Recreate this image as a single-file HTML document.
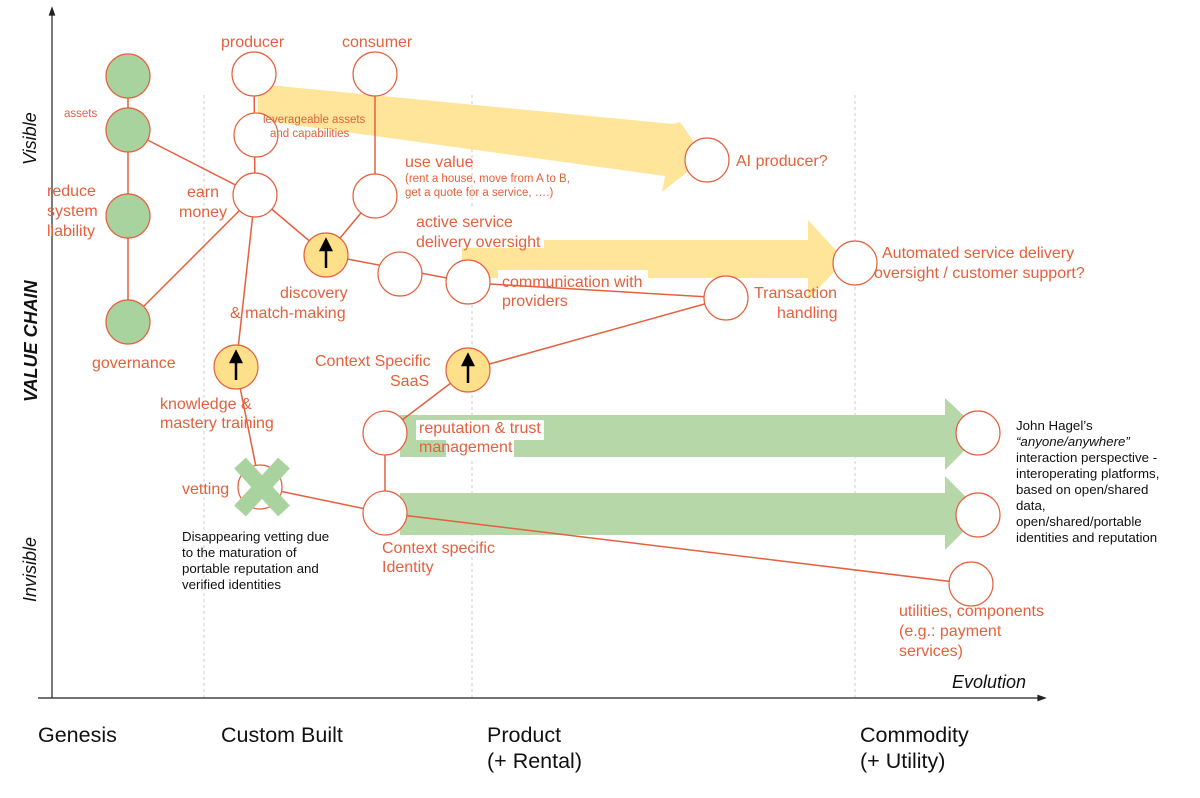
<!DOCTYPE html>
<html><head><style>
html,body{margin:0;padding:0;background:#fff;}
svg{display:block;}
text{font-family:"Liberation Sans",sans-serif;}
.o{fill:#e5603d;font-size:16px;}
.s{fill:#e5603d;font-size:11.5px;}
.k{fill:#111;font-size:13.3px;}
.b{fill:#111;font-size:21.5px;}
</style></head><body>
<svg width="1200" height="798" viewBox="0 0 1200 798" xmlns="http://www.w3.org/2000/svg">
<g stroke="#ccc" stroke-width="1" stroke-dasharray="3,3">
<line x1="204" y1="95" x2="204" y2="698"/>
<line x1="472" y1="95" x2="472" y2="698"/>
<line x1="855" y1="95" x2="855" y2="698"/>
</g>
<g stroke="#222" stroke-width="1.2" fill="#222">
<line x1="52" y1="12" x2="52" y2="698"/>
<line x1="38" y1="698" x2="1040" y2="698"/>
<polygon points="52,8 49.5,15 54.5,15"/>
<polygon points="1045,698 1038,695.5 1038,700.5"/>
</g>
<polygon fill="#ffe599" points="258,84 673,124 680,122 705,158 662,192 665,176 258,120"/>
<polygon fill="#ffe599" points="462,240 808,240 808,220 845,260 808,300 808,278 462,278"/>
<polygon fill="#b6d7a8" points="400,415 945,415 945,398 982,433 945,470 945,457 400,457"/>
<polygon fill="#b6d7a8" points="400,493 945,493 945,476 982,513 945,550 945,535 400,535"/>
<rect x="414" y="208" width="130" height="40" fill="#fff"/>
<rect x="498" y="270" width="150" height="40" fill="#fff"/>
<rect x="416" y="420" width="128" height="20" fill="#fff"/>
<rect x="446" y="440" width="68" height="18" fill="#fff"/>
<g stroke="#e5603d" stroke-width="1.5" fill="none">
<line x1="128" y1="76" x2="128" y2="322"/>
<line x1="128" y1="130" x2="255" y2="195"/>
<line x1="128" y1="322" x2="255" y2="195"/>
<line x1="254" y1="74" x2="255" y2="195"/>
<line x1="255" y1="195" x2="236" y2="367"/>
<line x1="255" y1="195" x2="326" y2="255"/>
<line x1="375" y1="74" x2="375" y2="196"/>
<line x1="375" y1="196" x2="326" y2="255"/>
<line x1="326" y1="255" x2="468" y2="282"/>
<line x1="490" y1="284" x2="726" y2="298"/>
<line x1="726" y1="298" x2="468" y2="370"/>
<line x1="468" y1="370" x2="385" y2="433"/>
<line x1="385" y1="433" x2="385" y2="513"/>
<line x1="236" y1="367" x2="260" y2="487"/>
<line x1="260" y1="487" x2="385" y2="513"/>
<line x1="385" y1="513" x2="971" y2="584"/>
</g>
<g fill="#a9d39e" stroke="#e5603d" stroke-width="1.2">
<circle cx="128" cy="76" r="22"/><circle cx="128" cy="130" r="22"/>
<circle cx="128" cy="216" r="22"/><circle cx="128" cy="322" r="22"/>
</g>
<g fill="#fff" stroke="#e5603d" stroke-width="1.2">
<circle cx="254" cy="74" r="22"/><circle cx="256" cy="135" r="22"/>
<circle cx="255" cy="195" r="22"/><circle cx="375" cy="74" r="22"/>
<circle cx="375" cy="196" r="22"/><circle cx="400" cy="274" r="22"/>
<circle cx="468" cy="282" r="22"/><circle cx="726" cy="298" r="22"/>
<circle cx="707" cy="160" r="22"/><circle cx="855" cy="263" r="22"/>
<circle cx="385" cy="433" r="22"/><circle cx="385" cy="513" r="22"/>
<circle cx="260" cy="487" r="22"/><circle cx="978" cy="433" r="22"/>
<circle cx="978" cy="515" r="22"/><circle cx="971" cy="584" r="22"/>
</g>
<g fill="#ffe08a" stroke="#e5603d" stroke-width="1.2">
<circle cx="326" cy="255" r="22"/><circle cx="236" cy="367" r="22"/><circle cx="468" cy="370" r="22"/>
</g>
<g stroke="#000" stroke-width="2.5" fill="#000">
<line x1="326" y1="268" x2="326" y2="246"/><polygon points="326,240 321,250 331,250"/>
<line x1="236" y1="380" x2="236" y2="358"/><polygon points="236,352 231,362 241,362"/>
<line x1="468" y1="383" x2="468" y2="361"/><polygon points="468,355 463,365 473,365"/>
</g>
<g stroke="#a9d39e" stroke-width="16">
<line x1="240" y1="463" x2="284" y2="511"/><line x1="284" y1="463" x2="240" y2="511"/>
</g>
<text class="o" x="221" y="47">producer</text>
<text class="o" x="342" y="47">consumer</text>
<text class="s" x="64" y="117">assets</text>
<text class="s" x="263" y="123">leverageable assets</text>
<text class="s" x="270" y="137">and capabilities</text>
<text class="o" x="47" y="196">reduce</text>
<text class="o" x="47" y="216">system</text>
<text class="o" x="47" y="236">liability</text>
<text class="o" x="187" y="197">earn</text>
<text class="o" x="179" y="217">money</text>
<text class="o" x="405" y="167">use value</text>
<text class="s" x="405" y="182">(rent a house, move from A to B,</text>
<text class="s" x="405" y="196">get a quote for a service, ….)</text>
<text class="o" x="416" y="227">active service</text>
<text class="o" x="416" y="247">delivery oversight</text>
<text class="o" x="736" y="166">AI producer?</text>
<text class="o" x="882" y="258">Automated service delivery</text>
<text class="o" x="874" y="278">oversight / customer support?</text>
<text class="o" x="502" y="287">communication with</text>
<text class="o" x="502" y="306">providers</text>
<text class="o" x="754" y="298">Transaction</text>
<text class="o" x="777" y="318">handling</text>
<text class="o" x="280" y="298">discovery</text>
<text class="o" x="230" y="318">&amp; match-making</text>
<text class="o" x="92" y="368">governance</text>
<text class="o" x="315" y="366">Context Specific</text>
<text class="o" x="390" y="386">SaaS</text>
<text class="o" x="160" y="409">knowledge &amp;</text>
<text class="o" x="160" y="428">mastery training</text>
<text class="o" x="419" y="433">reputation &amp; trust</text>
<text class="o" x="419" y="452">management</text>
<text class="o" x="182" y="494">vetting</text>
<text class="k" x="182" y="541">Disappearing vetting due</text>
<text class="k" x="182" y="557">to the maturation of</text>
<text class="k" x="182" y="573">portable reputation and</text>
<text class="k" x="182" y="589">verified identities</text>
<text class="o" x="382" y="553">Context specific</text>
<text class="o" x="382" y="572">Identity</text>
<text class="k" x="1016" y="430">John Hagel’s</text>
<text class="k" x="1016" y="446" font-style="italic">“anyone/anywhere”</text>
<text class="k" x="1016" y="462">interaction perspective -</text>
<text class="k" x="1016" y="478">interoperating platforms,</text>
<text class="k" x="1016" y="494">based on open/shared</text>
<text class="k" x="1016" y="510">data,</text>
<text class="k" x="1016" y="526">open/shared/portable</text>
<text class="k" x="1016" y="542">identities and reputation</text>
<text class="o" x="899" y="616">utilities, components</text>
<text class="o" x="899" y="636">(e.g.: payment</text>
<text class="o" x="899" y="656">services)</text>
<text x="952" y="688" font-size="18" font-style="italic" fill="#111">Evolution</text>
<text x="36" y="165" font-size="18" font-style="italic" fill="#111" transform="rotate(-90 36 165)">Visible</text>
<text x="37" y="402" font-size="18" font-style="italic" font-weight="bold" fill="#111" transform="rotate(-90 37 402)">VALUE CHAIN</text>
<text x="36" y="602" font-size="18" font-style="italic" fill="#111" transform="rotate(-90 36 602)">Invisible</text>
<text class="b" x="38" y="742">Genesis</text>
<text class="b" x="221" y="742">Custom Built</text>
<text class="b" x="487" y="742">Product</text>
<text class="b" x="487" y="768">(+ Rental)</text>
<text class="b" x="860" y="742">Commodity</text>
<text class="b" x="860" y="768">(+ Utility)</text>
</svg>
</body></html>
